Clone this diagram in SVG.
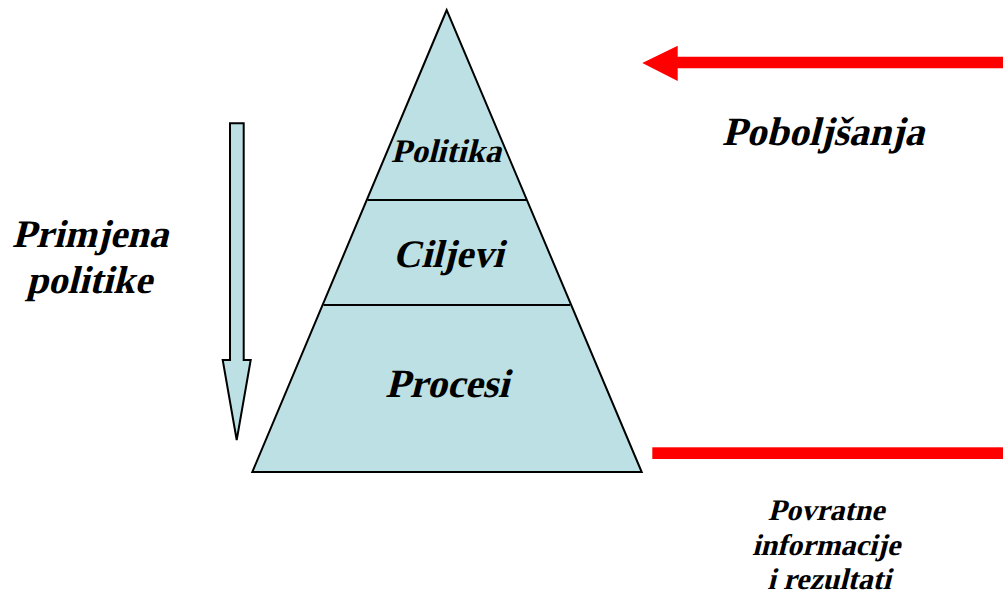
<svg xmlns="http://www.w3.org/2000/svg" width="1003" height="599" viewBox="0 0 1003 599">
<style>
.t{font-weight:bold;fill:#000;text-anchor:middle}
.lay{fill:#bce0e3;stroke:#000;stroke-width:2}
.div{stroke:#000;stroke-width:2;fill:none}
.red{fill:#ff0000;stroke:none}
</style>
<rect width="1003" height="599" fill="#fff"/>
<g id="pyramid">
<polygon class="lay" points="446.7,10 252.3,472 641.7,472"/>
<line class="div" x1="367.5" y1="200" x2="526" y2="200"/>
<line class="div" x1="323.5" y1="305" x2="570" y2="305"/>
</g>
<g font-family="Liberation Serif">
<g id="politika"><text class="t" transform="translate(446,162) skewX(-14)" font-size="33">Politika</text></g>
<g id="ciljevi"><text class="t" transform="translate(448,267) skewX(-14)" font-size="39">Ciljevi</text></g>
<g id="procesi"><text class="t" transform="translate(447,397) skewX(-14)" font-size="40">Procesi</text></g>
<g id="primjena">
<text class="t" transform="translate(90,247) skewX(-14)" font-size="39">Primjena</text>
<text class="t" transform="translate(89,293) skewX(-14)" font-size="39">politike</text>
</g>
<g id="poboljsanja"><text class="t" transform="translate(823,145) skewX(-14)" font-size="40">Poboljšanja</text></g>
<g id="povratne">
<text class="t" transform="translate(826,520) skewX(-14)" font-size="30">Povratne</text>
<text class="t" transform="translate(826,555) skewX(-14)" font-size="30">informacije</text>
<text class="t" transform="translate(829,589) skewX(-14)" font-size="30">i rezultati</text>
</g>
</g>
<g id="connectors">
<polygon class="lay" stroke-width="1.5" points="230,123.3 243.7,123.3 243.7,360 250.7,360 236.7,440 222.7,360 230,360"/>
<polygon class="red" points="1003,56.7 677.7,56.7 677.7,45.7 642.3,63 677.7,81 677.7,68.3 1003,68.3"/>
<rect class="red" x="652.3" y="447.3" width="350.7" height="11.7"/>
</g>
</svg>
